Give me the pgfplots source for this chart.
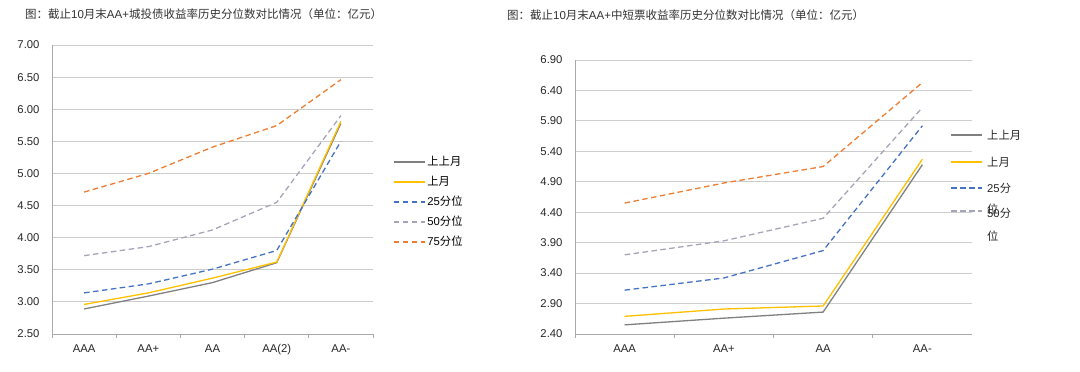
\documentclass[border=0pt]{standalone}
\usepackage{fontspec}
\setmainfont{Liberation Sans}
\newfontfamily\cjk{Noto Sans CJK SC}
\usepackage{pgfplots}
\pgfplotsset{compat=1.18}
\definecolor{cA}{RGB}{128,128,128}
\definecolor{cB}{RGB}{255,192,0}
\definecolor{cC}{RGB}{68,114,196}
\definecolor{cD}{RGB}{165,165,185}
\definecolor{cE}{RGB}{237,125,49}
\definecolor{gridc}{RGB}{205,205,205}
\definecolor{axisc}{RGB}{170,170,170}
\tikzset{
  dsh/.style={dash pattern=on 5.5pt off 3.5pt},
  lg/.style={anchor=west, inner sep=0pt, font=\fontsize{11.3}{13}\selectfont, text=black!85},
}
\pgfplotsset{
  mystyle/.style={
    scale only axis, clip=false,
    axis x line*=bottom, axis y line*=left,
    axis line style={axisc, line width=0.8pt},
    ymajorgrids, grid style={gridc, line width=0.9pt},
    tick label style={font=\fontsize{11.3}{13}\selectfont, text=black!85},
    /pgf/number format/assume math mode=true,
    yticklabel style={/pgf/number format/fixed, /pgf/number format/fixed zerofill, /pgf/number format/precision=2, xshift=-9pt},
    xticklabel style={yshift=-7pt},
    major tick length=0pt, minor tick length=4pt, tick align=outside,
    minor tick style={axisc, line width=0.8pt},
    legend style={draw=none, fill=none, inner sep=0pt, font=\fontsize{11.3}{13}\selectfont,
      cells={anchor=west}, nodes={inner sep=2pt, text height=9pt, text depth=2pt}},
    legend image code/.code={\draw[#1,line width=1.3pt] (0pt,0pt) -- (31pt,0pt);},
    every axis plot/.append style={line width=1.3pt},
  },
}
\begin{document}
\begin{tikzpicture}
\useasboundingbox (0,0) rectangle (1080pt,372pt);
\node[anchor=base west,font=\fontsize{11.5}{14}\selectfont,text=black!80,inner sep=0pt] at (25pt,353pt)
  {{\cjk 图：截止}10{\cjk 月末}AA+{\cjk 城投债收益率历史分位数对比情况（单位：亿元）}};
\node[anchor=base west,font=\fontsize{11.5}{14}\selectfont,text=black!80,inner sep=0pt] at (507pt,352pt)
  {{\cjk 图：截止}10{\cjk 月末}AA+{\cjk 中短票收益率历史分位数对比情况（单位：亿元）}};

\begin{axis}[mystyle, at={(52pt,38pt)}, anchor=south west, width=321pt, height=289pt,
  xmin=-0.5, xmax=4.5, xtick={0,1,2,3,4}, xticklabels={AAA,AA+,AA,AA(2),AA-},
  minor xtick={-0.5,0.5,1.5,2.5,3.5,4.5},
  ymin=2.5, ymax=7, ytick={2.5,3,3.5,4,4.5,5,5.5,6,6.5,7},
  legend style={at={(1.062,0.622)}, anchor=north west, row sep=5pt}]
\addplot[cA] coordinates {(0,2.89) (1,3.09) (2,3.30) (3,3.61) (4,5.78)};
\addlegendentry{{\cjk 上上月}}
\addplot[cB] coordinates {(0,2.96) (1,3.14) (2,3.37) (3,3.62) (4,5.81)};
\addlegendentry{{\cjk 上月}}
\addplot[cC,dsh] coordinates {(0,3.14) (1,3.28) (2,3.51) (3,3.80) (4,5.50)};
\addlegendentry{25{\cjk 分位}}
\addplot[cD,dsh] coordinates {(0,3.72) (1,3.86) (2,4.12) (3,4.55) (4,5.90)};
\addlegendentry{50{\cjk 分位}}
\addplot[cE,dsh] coordinates {(0,4.71) (1,5.00) (2,5.41) (3,5.745) (4,6.46)};
\addlegendentry{75{\cjk 分位}}
\end{axis}

\begin{axis}[mystyle, at={(575pt,38pt)}, anchor=south west, width=397pt, height=274pt,
  xmin=-0.5, xmax=3.5, xtick={0,1,2,3}, xticklabels={AAA,AA+,AA,AA-},
  minor xtick={-0.5,0.5,1.5,2.5},
  ymin=2.4, ymax=6.9, ytick={2.4,2.9,3.4,3.9,4.4,4.9,5.4,5.9,6.4,6.9}]
\addplot[cA] coordinates {(0,2.55) (1,2.66) (2,2.76) (3,5.18)};
\addplot[cB] coordinates {(0,2.69) (1,2.81) (2,2.86) (3,5.27)};
\addplot[cC,dsh] coordinates {(0,3.12) (1,3.32) (2,3.77) (3,5.82)};
\addplot[cD,dsh] coordinates {(0,3.70) (1,3.93) (2,4.30) (3,6.12)};
\addplot[cE,dsh] coordinates {(0,4.55) (1,4.88) (2,5.15) (3,6.53)};
\end{axis}
% legend of the right chart
\draw[cA,line width=1.3pt] (951pt,237pt) -- (982pt,237pt);
\node[lg] at (987pt,237pt) {\cjk 上上月};
\draw[cB,line width=1.3pt] (951pt,210pt) -- (982pt,210pt);
\node[lg] at (987pt,210pt) {\cjk 上月};
\draw[cC,line width=1.3pt,dsh] (951pt,184pt) -- (982pt,184pt);
\node[lg] at (987pt,184pt) {25{\cjk 分}};
\node[lg] at (987pt,163pt) {\cjk 位};
\draw[cD,line width=1.3pt,dsh] (951pt,161pt) -- (982pt,161pt);
\node[lg] at (987pt,159pt) {50{\cjk 分}};
\node[lg] at (987pt,136pt) {\cjk 位};
\end{tikzpicture}
\end{document}
